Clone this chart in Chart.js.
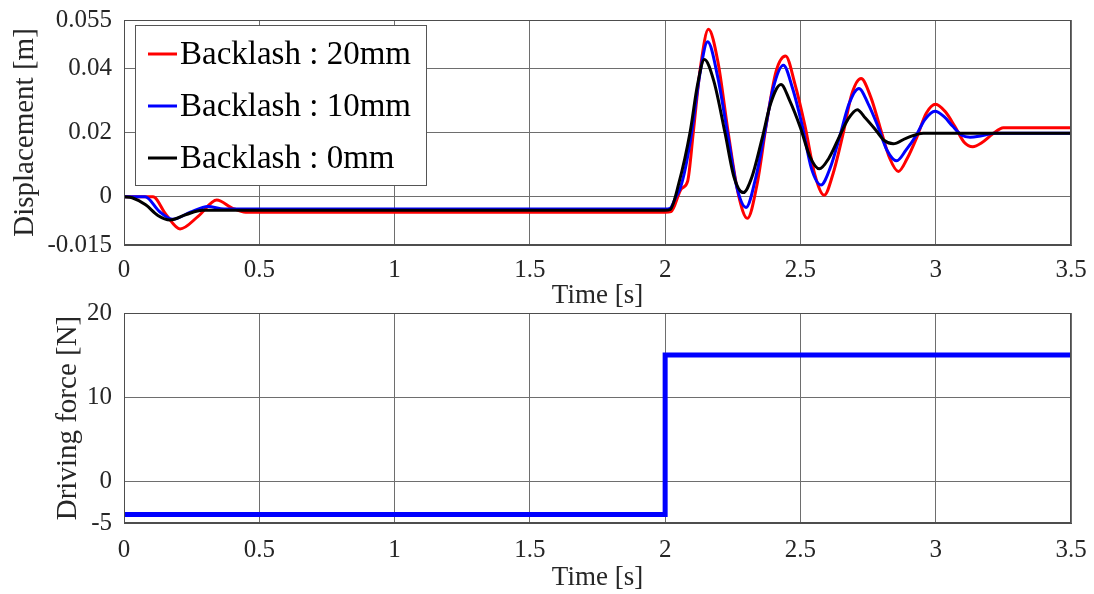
<!DOCTYPE html>
<html lang="en">
<head>
<meta charset="UTF-8">
<title>Backlash response</title>
<script src="https://cdn.jsdelivr.net/npm/chart.js"></script>
<style>
    body { margin: 0; background: #fff; }
    #wrap { position: relative; width: 1094px; height: 594px; background: #fff; overflow: hidden; }
    canvas { position: absolute; left: 0; }
    #top { top: 0; }
    #bottom { top: 290px; }
</style>
</head>
<body>
<div id="wrap">
    <canvas id="top" width="1094" height="315"></canvas>
    <canvas id="bottom" width="1094" height="304"></canvas>
</div>
<script>
// x axis ticks (both plots)
const xTicks = [0, 0.5, 1, 1.5, 2, 2.5, 3, 3.5];
const xTickLabels = ['0', '0.5', '1', '1.5', '2', '2.5', '3', '3.5'];

// top plot y ticks
const dispTicks = [-0.015, 0, 0.02, 0.04, 0.055];
const dispTickLabels = ['-0.015', '0', '0.02', '0.04', '0.055'];

// bottom plot y ticks
const forceTicks = [-5, 0, 10, 20];
const forceTickLabels = ['-5', '0', '10', '20'];

const seriesLabels = ['Backlash : 20mm', 'Backlash : 10mm', 'Backlash : 0mm'];

// displacement [m]: [time, value]
const backlash20 = [
    [0, 0], [0.107, 0], [0.155, -0.0055], [0.207, -0.0100], [0.275, -0.0060],
    [0.343, -0.0010], [0.40, -0.0035], [0.45, -0.0048], [2.00, -0.0048],
    [2.022, -0.0046], [2.06, 0.0025], [2.083, 0.0048], [2.104, 0.0200],
    [2.13, 0.0400], [2.16, 0.0521], [2.195, 0.0420], [2.233, 0.0200],
    [2.27, 0.0010], [2.304, -0.0067], [2.34, 0.0040], [2.375, 0.0230],
    [2.41, 0.0390], [2.445, 0.0438], [2.48, 0.0350], [2.517, 0.0220],
    [2.553, 0.0070], [2.588, 0.0005], [2.62, 0.0070], [2.656, 0.0190],
    [2.69, 0.0320], [2.724, 0.0368], [2.76, 0.0310], [2.793, 0.0220],
    [2.83, 0.0120], [2.862, 0.0079], [2.895, 0.0120], [2.93, 0.0185],
    [2.965, 0.0260], [3.00, 0.0288], [3.035, 0.0265], [3.07, 0.0220],
    [3.105, 0.0170], [3.137, 0.0156], [3.17, 0.0168], [3.21, 0.0195],
    [3.25, 0.0215], [3.5, 0.0215]
];
const backlash10 = [
    [0, 0], [0.078, 0], [0.13, -0.0045], [0.18, -0.0070], [0.245, -0.0048],
    [0.31, -0.0030], [0.37, -0.0038], [0.45, -0.0038], [2.00, -0.0038],
    [2.018, -0.0036], [2.04, 0.0000], [2.055, 0.0025], [2.075, 0.0090],
    [2.098, 0.0200], [2.128, 0.0380], [2.157, 0.0482], [2.195, 0.0370],
    [2.23, 0.0200], [2.265, 0.0030], [2.299, -0.0033], [2.335, 0.0060],
    [2.368, 0.0200], [2.40, 0.0340], [2.437, 0.0409], [2.47, 0.0340],
    [2.507, 0.0220], [2.54, 0.0090], [2.576, 0.0037], [2.61, 0.0090],
    [2.646, 0.0190], [2.68, 0.0290], [2.716, 0.0337], [2.75, 0.0290],
    [2.786, 0.0220], [2.82, 0.0145], [2.856, 0.0112], [2.89, 0.0145],
    [2.927, 0.0190], [2.96, 0.0240], [2.997, 0.0266], [3.03, 0.0250],
    [3.062, 0.0220], [3.095, 0.0192], [3.127, 0.0185], [3.17, 0.0190],
    [3.22, 0.0198], [3.5, 0.0198]
];
const backlash0 = [
    [0, 0], [0.03, -0.0003], [0.08, -0.0025], [0.125, -0.0058], [0.17, -0.0072],
    [0.23, -0.0055], [0.29, -0.0042], [2.00, -0.0042], [2.018, -0.0040],
    [2.05, 0.0040], [2.092, 0.0200], [2.12, 0.0350], [2.145, 0.0427],
    [2.18, 0.0360], [2.221, 0.0200], [2.255, 0.0060], [2.289, 0.0013],
    [2.32, 0.0060], [2.358, 0.0180], [2.39, 0.0290], [2.428, 0.0349],
    [2.46, 0.0300], [2.50, 0.0215], [2.535, 0.0125], [2.57, 0.0087],
    [2.605, 0.0120], [2.64, 0.0180], [2.675, 0.0240], [2.71, 0.0271],
    [2.74, 0.0245], [2.776, 0.0210], [2.81, 0.0175], [2.843, 0.0165],
    [2.89, 0.0182], [2.954, 0.0198], [3.5, 0.0198]
];

// driving force [N]
const forceTime = [0, 2.0, 2.0, 3.5];
const forceValue = [-4, -4, 15, 15];

const serif = "'Liberation Serif', 'Times New Roman', serif";
const txt = '#262626';

function toXY(arr) { return arr.map(p => ({ x: p[0], y: p[1] })); }

// box around the axes, like MATLAB "box on"
const boxPlugin = {
    id: 'box',
    afterDatasetsDraw(chart) {
        const a = chart.chartArea, c = chart.ctx;
        c.save();
        c.strokeStyle = '#4d4d4d';
        c.lineWidth = 1;
        c.strokeRect(Math.round(a.left) + 0.5, Math.round(a.top) + 0.5,
            Math.round(a.right - a.left) - 1, Math.round(a.bottom - a.top) - 1);
        c.restore();
    }
};

// legend box in the upper left corner of the top axes
const legendPlugin = {
    id: 'boxLegend',
    afterDraw(chart) {
        const c = chart.ctx;
        c.save();
        c.fillStyle = '#fff';
        c.fillRect(135.5, 25.5, 291, 160);
        c.strokeStyle = '#555';
        c.lineWidth = 1;
        c.strokeRect(135.5, 25.5, 291, 160);
        c.font = '33px ' + serif;
        c.textBaseline = 'middle';
        c.textAlign = 'left';
        chart.data.datasets.forEach((ds, i) => {
            const y = 54 + i * 52;
            c.strokeStyle = ds.borderColor;
            c.lineWidth = 3;
            c.beginPath();
            c.moveTo(148, y);
            c.lineTo(177, y);
            c.stroke();
            c.fillStyle = '#000';
            c.fillText(ds.label, 180, y + 1);
        });
        c.restore();
    }
};

function xAxis(h, tickPad, titlePad) {
    return {
        type: 'linear', min: 0, max: 3.5,
        afterBuildTicks: s => { s.ticks = xTicks.map(v => ({ value: v })); },
        // fixed height; end labels may hang over the plot edges
        afterFit: s => { s.height = h; s.paddingLeft = 0; s.paddingRight = 0; },
        ticks: {
            font: { family: serif, size: 25 }, color: txt, padding: tickPad,
            maxRotation: 0, autoSkip: false,
            callback: (v, i) => xTickLabels[i]
        },
        grid: { color: '#6e6e6e', lineWidth: 1, drawTicks: false },
        border: { display: true, color: '#4d4d4d' },
        title: {
            display: true, text: 'Time [s]', color: txt,
            font: { family: serif, size: 27 }, padding: { top: 0, bottom: titlePad }
        }
    };
}

function yAxis(min, max, ticks, labels, title, titlePad) {
    return {
        type: 'linear', min: min, max: max,
        afterBuildTicks: s => { s.ticks = ticks.map(v => ({ value: v })); },
        afterFit: s => { s.width = 124; s.paddingTop = 0; s.paddingBottom = 0; },
        ticks: {
            font: { family: serif, size: 25 }, color: txt, padding: 12,
            autoSkip: false,
            callback: (v, i) => labels[i]
        },
        grid: { color: '#6e6e6e', lineWidth: 1, drawTicks: false },
        border: { display: true, color: '#4d4d4d' },
        title: {
            display: true, text: title, color: txt,
            font: { family: serif, size: 29 }, padding: { top: titlePad, bottom: 0 }
        }
    };
}

const lineStyle = { pointRadius: 0, fill: false, cubicInterpolationMode: 'monotone' };

new Chart(document.getElementById('top'), {
    type: 'line',
    data: {
        datasets: [
            Object.assign({ label: seriesLabels[0], data: toXY(backlash20), borderColor: '#ff0000', borderWidth: 3, order: 3 }, lineStyle),
            Object.assign({ label: seriesLabels[1], data: toXY(backlash10), borderColor: '#0000ff', borderWidth: 3, order: 2 }, lineStyle),
            Object.assign({ label: seriesLabels[2], data: toXY(backlash0), borderColor: '#000000', borderWidth: 3, order: 1 }, lineStyle)
        ]
    },
    options: {
        responsive: false, animation: false,
        layout: { padding: { top: 20, right: 23, left: 0, bottom: 0 } },
        plugins: { legend: { display: false }, tooltip: { enabled: false } },
        scales: {
            x: xAxis(70, 10, 3),
            y: yAxis(-0.015, 0.055, dispTicks, dispTickLabels, 'Displacement [m]', 8)
        }
    },
    plugins: [boxPlugin, legendPlugin]
});

new Chart(document.getElementById('bottom'), {
    type: 'line',
    data: {
        datasets: [{
            label: 'Driving force',
            data: forceTime.map((t, i) => ({ x: t, y: forceValue[i] })),
            borderColor: '#0000ff', borderWidth: 5, pointRadius: 0, tension: 0, fill: false
        }]
    },
    options: {
        responsive: false, animation: false,
        layout: { padding: { top: 23, right: 23, left: 0, bottom: 0 } },
        plugins: { legend: { display: false }, tooltip: { enabled: false } },
        scales: {
            x: xAxis(71, 12, 0),
            y: yAxis(-5, 20, forceTicks, forceTickLabels, 'Driving force [N]', 51)
        }
    },
    plugins: [boxPlugin]
});
</script>
</body>
</html>
